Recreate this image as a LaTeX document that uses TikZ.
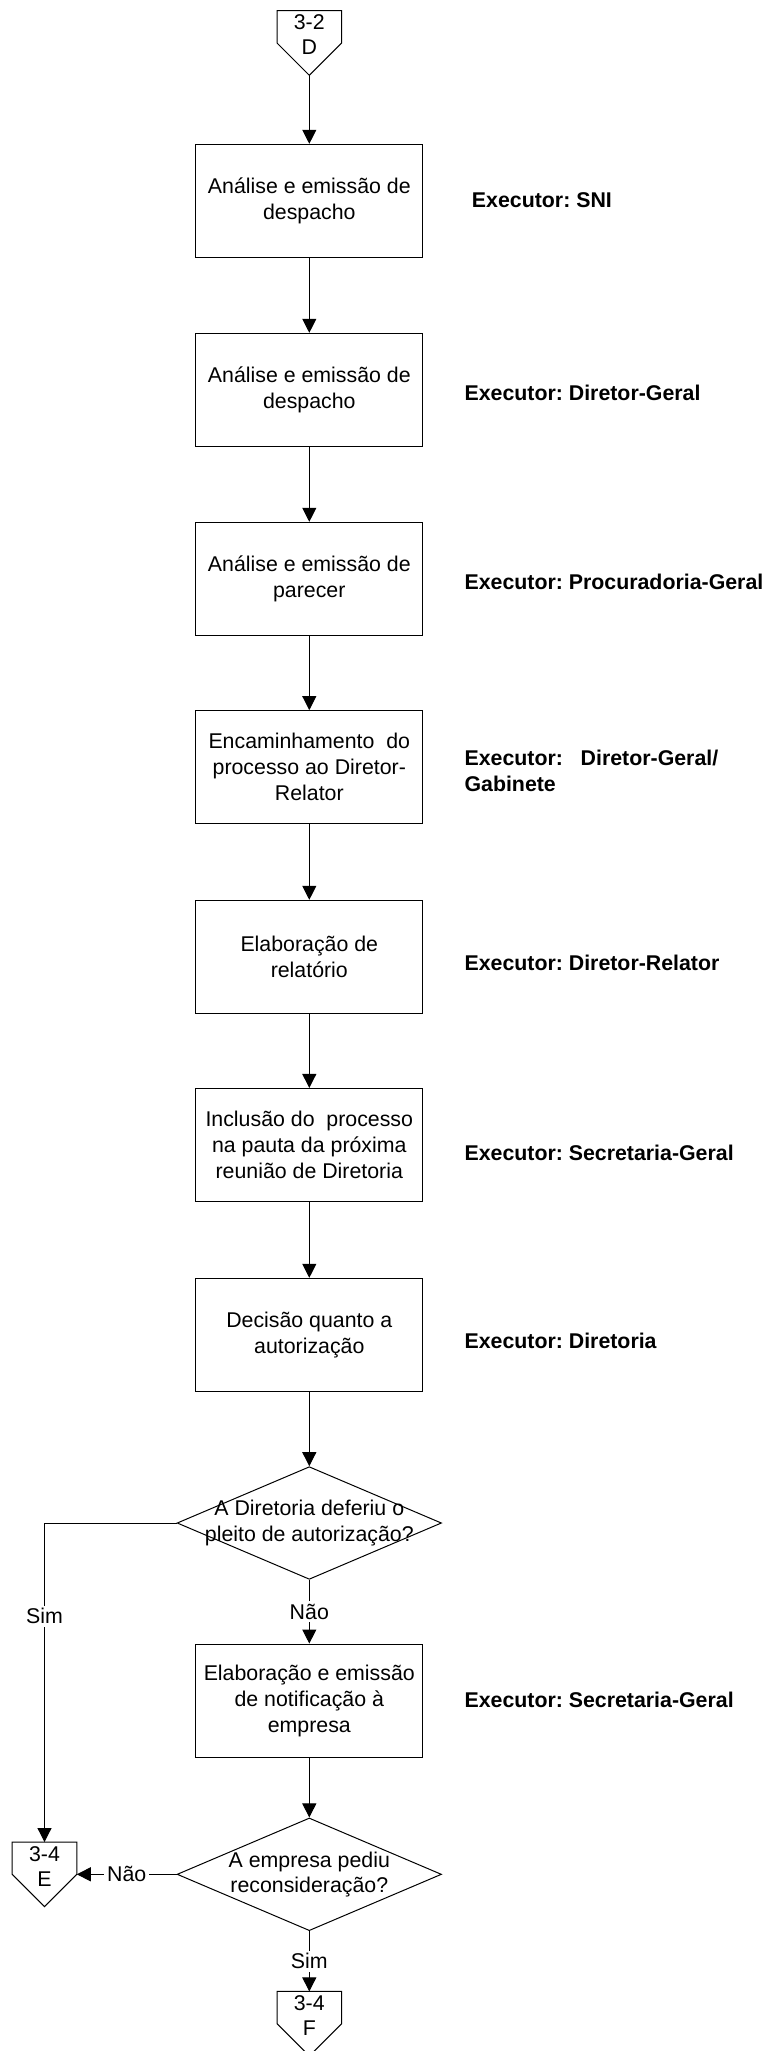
\documentclass[tikz,border=0pt]{standalone}
\usepackage{fontspec}
\setmainfont{Liberation Sans}
\usetikzlibrary{arrows.meta,shapes.geometric}
\tikzset {>={Triangle[length=10.5pt,width=10.5pt]}}
\frenchspacing
\tikzset{
  proc/.style={draw,rectangle,line width=.75pt,minimum width=170.25pt,
    minimum height=85pt,inner sep=0pt,align=center,
    font=\fontsize{16}{19.5}\selectfont},
  decision/.style={draw,diamond,line width=.75pt,minimum width=198.3pt,
    minimum height=84.5pt,inner sep=0pt},
  offpage/.style={minimum width=48pt,minimum height=48pt,inner sep=0pt},
  plain/.style={align=center,inner sep=0pt,font=\fontsize{16}{19}\selectfont},
  executor/.style={anchor=west,inner sep=0pt,align=left,
    font=\fontsize{16}{19}\selectfont\bfseries},
  answer/.style={fill=white,inner sep=2pt,font=\fontsize{16}{19}\selectfont},
  flow/.style={->,line width=.75pt}
}

\begin{document}
\begin{tikzpicture}[x=0.75pt,y=-0.75pt]
\useasboundingbox (0,0) rectangle (767,2051);

% Off-page connector coming from sheet 3-2
\node[offpage] (D) at (309.3,43) {};
\draw[line width=.75pt] (D.north west) -- (D.north east) -- (D.east)
   -- (D.south) -- (D.west) -- cycle;
\node[plain,yshift=6.2pt] (D-text) at (D) {3-2\\D};

% Process steps, one below the other
\node[proc] (despacho-sni) at (309.3,201) {Análise e emissão de\\despacho};
\node[proc] (despacho-dg)  at (309.3,390) {Análise e emissão de\\despacho};
\node[proc] (parecer)      at (309.3,579) {Análise e emissão de\\parecer};
\node[proc] (encaminha)    at (309.3,767.3) {Encaminhamento\ \ do\\processo ao Diretor-\\Relator};
\node[proc] (relatorio)    at (309.3,957) {Elaboração de\\relatório};
\node[proc] (pauta)        at (309.3,1145.1) {Inclusão do\ \ processo\\na pauta da próxima\\reunião de Diretoria};
\node[proc] (decisao)      at (309.3,1335) {Decisão quanto a\\autorização};

% First decision
\node[decision] (deferiu) at (309.3,1523) {};
\node[plain] (deferiu-text) at (deferiu) {A Diretoria deferiu o\\pleito de autorização?};

% Notification to the company
\node[proc] (notifica) at (309.3,1700.7) {Elaboração e emissão\\de notificação à\\empresa};

% Second decision
\node[decision] (reconsidera) at (309.3,1874.3) {};
\node[plain] (reconsidera-text) at (reconsidera) {A empresa pediu\\reconsideração?};

% Off-page connectors going to sheet 3-4
\node[offpage] (E) at (44.5,1874.3) {};
\draw[line width=.75pt] (E.north west) -- (E.north east) -- (E.east)
   -- (E.south) -- (E.west) -- cycle;
\node[plain,yshift=6pt] (E-text) at (E) {3-4\\E};

\node[offpage] (F) at (309.3,2023.7) {};
\draw[line width=.75pt] (F.north west) -- (F.north east) -- (F.east)
   -- (F.south) -- (F.west) -- cycle;
\node[plain,yshift=6.3pt] (F-text) at (F) {3-4\\F};

% Who does each step
\node[executor] (ex-sni)  at (471.7,200)   {Executor: SNI};
\node[executor] (ex-dg)   at (464.3,393)   {Executor: Diretor-Geral};
\node[executor] (ex-pg)   at (464.3,582.3) {Executor: Procuradoria-Geral};
\node[executor] (ex-gab)  at (464.3,770.8) {Executor:\ \ \ Diretor-Geral/\\Gabinete};
\node[executor] (ex-rel)  at (464.3,963.3) {Executor: Diretor-Relator};
\node[executor] (ex-sg)   at (464.3,1152.7) {Executor: Secretaria-Geral};
\node[executor] (ex-dir)  at (464.3,1341)  {Executor: Diretoria};
\node[executor] (ex-sg2)  at (464.3,1700)  {Executor: Secretaria-Geral};

% Connectors
\draw[flow] (D.south) -- (despacho-sni.north);
\draw[flow] (despacho-sni) -- (despacho-dg);
\draw[flow] (despacho-dg) -- (parecer);
\draw[flow] (parecer) -- (encaminha);
\draw[flow] (encaminha) -- (relatorio);
\draw[flow] (relatorio) -- (pauta);
\draw[flow] (pauta) -- (decisao);
\draw[flow] (decisao.south) -- (deferiu.north);
\draw[flow] (deferiu.south) -- node[answer] {Não} (notifica.north);
\draw[flow] (deferiu.west) -| node[answer,pos=.646] {Sim} (E.north);
\draw[flow] (notifica.south) -- (reconsidera.north);
\draw[flow] (reconsidera.west) -- node[answer] {Não} (E.east);
\draw[flow] (reconsidera.south) -- node[answer] {Sim} (F.north);
\end{tikzpicture}
\end{document}
